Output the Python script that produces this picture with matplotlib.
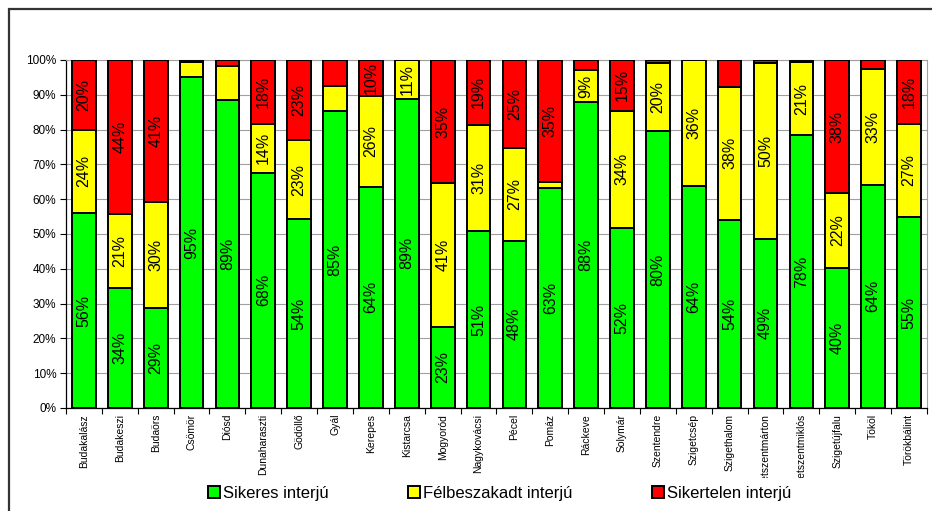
import numpy as np
import matplotlib.pyplot as plt
from matplotlib.patches import Rectangle
from matplotlib.transforms import Bbox, TransformedBbox

plt.rcParams['font.family'] = ['Liberation Sans', 'DejaVu Sans']

towns = ["Budakalász", "Budakeszi", "Budaörs", "Csömör", "Diósd", "Dunaharaszti",
         "Gödöllő", "Gyál", "Kerepes", "Kistarcsa", "Mogyoród", "Nagykovácsi",
         "Pécel", "Pomáz", "Ráckeve", "Solymár", "Szentendre", "Szigetcsép",
         "Szigethalom", "Szigetszentmárton", "Szigetszentmiklós", "Szigetújfalu",
         "Tököl", "Törökbálint"]

sikeres = [56.0, 34.4, 28.8, 95.0, 88.6, 67.6, 54.2, 85.2, 63.6, 88.9, 23.3, 50.8,
           48.1, 63.2, 87.8, 51.8, 79.6, 63.8, 54.1, 48.7, 78.4, 40.2, 64.2, 54.9]
felbeszakadt = [24.0, 21.2, 30.5, 4.5, 9.8, 14.1, 22.8, 7.3, 26.0, 11.1, 41.3, 30.6,
                26.7, 1.6, 9.4, 33.6, 19.6, 36.2, 38.2, 50.3, 20.9, 21.6, 33.3, 26.8]
sikertelen = [20.0, 44.4, 40.7, 0.5, 1.6, 18.3, 23.0, 7.5, 10.4, 0.0, 35.4, 18.6,
              25.2, 35.2, 2.8, 14.6, 0.8, 0.0, 7.7, 1.0, 0.7, 38.2, 2.5, 18.3]

series = ["Sikeres interjú", "Félbeszakadt interjú", "Sikertelen interjú"]
colors = ["#00ff00", "#ffff00", "#ff0000"]

# segments whose percentage is not printed on the bar
hidden = {("Diósd", 1)}

fig = plt.figure(figsize=(9.32, 5.11), dpi=100)
ax = fig.add_axes([0.0708, 0.2016, 0.9238, 0.681])

# outer chart frame
fig.patches.append(Rectangle((8.5 / 932, -0.1), 1.2, 1.1 - 9 / 511,
                             transform=fig.transFigure, fill=False,
                             edgecolor="#333333", linewidth=1.6))

x = np.arange(len(towns))
bottom = np.zeros(len(towns))
for k, vals in enumerate([sikeres, felbeszakadt, sikertelen]):
    vals = np.array(vals)
    ax.bar(x, vals, 0.66, bottom=bottom, color=colors[k], edgecolor="black",
           linewidth=1.4, label=series[k], zorder=3)
    for i, v in enumerate(vals):
        if v >= 9 and (towns[i], k) not in hidden:
            ax.text(x[i], bottom[i] + v / 2, f"{v:.0f}%", rotation=90,
                    ha="center", va="center", fontsize=11.5, zorder=4)
    bottom += vals

ax.set_xlim(-0.5, len(towns) - 0.5)
ax.set_ylim(0, 100)
ax.set_yticks(np.arange(0, 101, 10))
ax.set_yticklabels([f"{t}%" for t in range(0, 101, 10)], fontsize=8.5)
ax.yaxis.grid(True, color="#a0a0a0", linewidth=0.8, zorder=0)
ax.set_axisbelow(True)

ax.set_xticks(np.arange(-0.5, len(towns), 1.0))
ax.set_xticklabels([])
ax.tick_params(axis="x", length=4, width=0.8, color="black")
ax.tick_params(axis="y", length=4, width=0.8, color="black", pad=3)

for side in ["top", "right"]:
    ax.spines[side].set_color("#a0a0a0")
    ax.spines[side].set_linewidth(0.8)
for side in ["left", "bottom"]:
    ax.spines[side].set_color("black")
    ax.spines[side].set_linewidth(0.9)

# category names, cut off at the lower edge of the label strip
clip = TransformedBbox(Bbox.from_extents(0, (511 - 478) / 511, 1, 1), fig.transFigure)
for i, name in enumerate(towns):
    t = ax.text(x[i], -0.017, name, transform=ax.get_xaxis_transform(),
                rotation=90, ha="center", va="top", fontsize=7.5, clip_on=True)
    t.set_clip_box(clip)

ax.legend(loc="center", bbox_to_anchor=(499.5 / 932, 18 / 511),
          bbox_transform=fig.transFigure, ncol=3, frameon=False, fontsize=12,
          handlelength=0.72, handleheight=0.72, handletextpad=0.15,
          columnspacing=4.8, borderpad=0, borderaxespad=0)

fig.savefig("out.png", dpi=100)
